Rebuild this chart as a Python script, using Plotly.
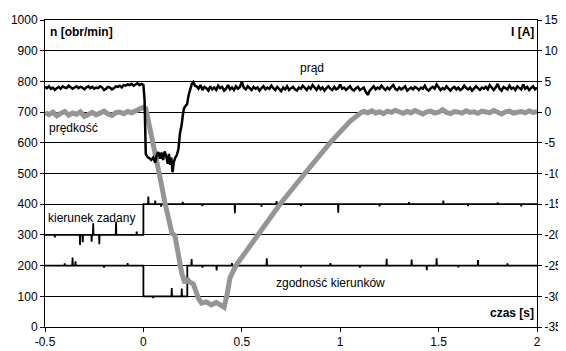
import numpy as np
import plotly.graph_objects as go

# ---------------- data ----------------
# current I [A] (right axis)
cur_pre_t0, cur_pre_dt = -0.5, 0.01
cur_pre = [4.1, 3.9, 4.2, 3.8, 4.0, 3.6, 3.9, 4.1, 3.8, 4.2, 4.0, 3.9, 4.3, 4.1, 3.8, 4.0, 4.2,
           3.9, 4.1, 4.0, 3.7, 4.0, 4.2, 3.9, 4.1, 3.8, 4.0, 3.9, 4.2, 4.0, 3.6, 3.8, 4.1, 4.0,
           3.7, 3.9, 4.2, 4.1, 4.3, 4.0, 4.4, 4.3, 4.5, 4.4, 4.6, 4.3, 4.5, 4.7, 4.4, 4.6, 4.4]
cur_dip_t = [0.006, 0.012, 0.02, 0.03, 0.04, 0.05, 0.06, 0.068, 0.076, 0.084, 0.092, 0.1, 0.108,
             0.116, 0.124, 0.13, 0.136, 0.142, 0.148, 0.154, 0.162, 0.17, 0.178, 0.186, 0.194,
             0.2, 0.206, 0.214, 0.222, 0.23, 0.238, 0.246, 0.254, 0.262]
cur_dip = [2.0, -6.8, -7.3, -7.5, -7.8, -7.4, -8.2, -7.0, -6.5, -7.6, -6.6, -7.8, -6.4,
           -7.2, -8.4, -6.8, -8.6, -7.4, -9.8, -8.2, -7.4, -7.0, -6.0, -3.4, -2.2,
           -0.6, 0.6, 1.0, 1.3, 2.8, 3.9, 4.6, 4.9, 4.3]
cur_post_t0, cur_post_dt = 0.27, 0.01
cur_post = [4.2, 3.8, 4.4, 3.6, 4.1, 3.9, 3.5, 4.2, 3.7, 4.0,
            3.6, 4.3, 3.9, 4.1, 3.5, 3.8, 4.4, 3.7, 4.0, 3.6,
            4.2, 3.8, 4.1, 4.9, 4.0, 3.7, 4.2, 3.9, 3.6, 4.1,
            3.8, 4.0, 3.5, 3.9, 4.2, 3.7, 4.0, 3.8, 4.3, 3.9,
            3.6, 4.1, 3.8, 3.4, 4.0, 3.7, 4.2, 3.6, 3.9, 4.1,
            3.7, 3.5, 4.0, 3.8, 4.3, 3.9, 3.6, 4.1, 3.8, 4.4,
            3.9, 3.6, 4.2, 3.7, 4.0, 3.5, 3.9, 4.2, 3.8, 3.6,
            4.1, 3.7, 3.9, 4.5, 3.8, 4.0, 3.6, 3.9, 4.2, 3.7,
            3.5, 3.9, 4.1, 3.6, 3.8, 4.0, 3.3, 2.8, 3.5, 3.9,
            4.2, 3.7, 4.0, 3.8, 4.3, 3.9, 3.6, 4.0, 3.7, 4.1,
            4.4, 3.8, 3.6, 4.0, 3.7, 3.9, 4.2, 3.5, 3.8, 4.0,
            3.7, 4.1, 3.9, 3.6, 4.0, 3.8, 4.3, 3.7, 3.5, 3.9,
            4.1, 3.8, 4.5, 4.0, 3.6, 3.9, 3.7, 4.2, 3.8, 3.5,
            3.9, 4.1, 3.7, 4.0, 3.6, 3.8, 4.3, 3.9, 3.7, 4.0,
            3.5, 3.8, 4.2, 3.9, 3.6, 4.0, 3.8, 4.1, 3.7, 4.4,
            3.9, 3.6, 4.0, 4.6, 3.8, 3.5, 4.1, 3.9, 3.7, 4.3,
            3.8, 4.0, 3.6, 4.2, 3.9, 3.7, 4.5, 3.8, 4.1, 3.6,
            3.9, 4.2, 3.7, 4.0]

# speed n [obr/min] (left axis)
spd_pre_t0, spd_pre_dt = -0.5, 0.02
spd_pre = [698, 692, 700, 688, 696, 702, 690, 697, 693, 701, 686, 695, 699, 691, 697, 703,
           694, 689, 698, 700, 695, 702, 698, 705, 710]
spd_mid_t = [0.0, 0.012, 0.025, 0.05, 0.076, 0.09, 0.11, 0.13, 0.145, 0.16, 0.177, 0.195,
             0.211, 0.222, 0.232, 0.254, 0.279, 0.295, 0.32, 0.345, 0.37, 0.39, 0.41, 0.425,
             0.44, 0.47, 0.58, 0.694, 0.82, 0.948, 1.05, 1.09, 1.11]
spd_mid = [716, 712, 674, 598, 522, 470, 403, 335, 305, 298, 240, 175,
           143, 158, 148, 140, 94, 78, 82, 72, 80, 70, 64, 105,
           160, 200, 300, 400, 500, 600, 670, 692, 700]
spd_post_t0, spd_post_dt = 1.12, 0.02
spd_post = [702, 698, 704, 697, 701, 695, 703, 699, 706, 700,
            696, 702, 698, 705, 700, 694, 701, 703, 697, 700,
            708, 699, 695, 702, 700, 697, 704, 699, 701, 696,
            703, 700, 698, 705, 699, 694, 701, 703, 697, 700,
            702, 698, 704, 699, 701]

# requested direction (kierunek zadany): level before / after step at t=0
kier_levels = [300, 400]
kier_spike_t = [-0.45, -0.322, -0.308, -0.263, -0.255, -0.224, -0.139, -0.034, 0.025, 0.06,
                0.09, 0.2, 0.3, 0.465, 0.6, 0.677, 0.8, 0.99, 1.2, 1.35, 1.524, 1.65, 1.8, 1.92]
kier_spike_v = [292, 267, 276, 278, 338, 270, 343, 311, 425, 412,
                392, 408, 394, 371, 392, 410, 394, 372, 393, 407, 412, 394, 406, 393]

# direction agreement (zgodność kierunków): 200 -> 100 (0..0.223) -> 200
zg_edges = [-0.5, 0.0, 0.223, 2.0]
zg_levels = [200, 100, 200]
zg_spike_t = [-0.4, -0.36, -0.345, -0.2, -0.08, 0.05, 0.144, 0.195, 0.245, 0.3, 0.372, 0.45,
              0.627, 0.8, 0.95, 1.1, 1.236, 1.363, 1.44, 1.49, 1.6, 1.7, 1.85]
zg_spike_v = [207, 226, 214, 193, 208, 94, 127, 125, 221, 193, 184, 208,
              224, 194, 208, 193, 222, 220, 185, 224, 194, 218, 207]

x_tickvals = [-0.5, 0, 0.5, 1, 1.5, 2]
x_ticktext = ["-0.5", "0", "0.5", "1", "1.5", "2"]
y_tickvals = [0, 100, 200, 300, 400, 500, 600, 700, 800, 900, 1000]
y2_tickvals = [-35, -30, -25, -20, -15, -10, -5, 0, 5, 10, 15]
y2_ticktext = ["-35", "-30", "-25", "-20", "-15", "-10", "-5", "0", "5", "10", "15"]


# ---------------- helpers ----------------
def grid(t0, dt, n):
    return list(np.round(t0 + dt * np.arange(n), 4))


def step_with_spikes(edges, levels, sp_t, sp_v, w=0.0015):
    pts = []
    for i, lv in enumerate(levels):
        a, b = edges[i], edges[i + 1]
        inner = [(t, v) for t, v in zip(sp_t, sp_v) if a <= t < b]
        pts.append((a, lv))
        for t, v in inner:
            pts += [(t - w, lv), (t, v), (t + w, lv)]
        pts.append((b, lv))
    return [p[0] for p in pts], [p[1] for p in pts]


cur_t = grid(cur_pre_t0, cur_pre_dt, len(cur_pre)) + cur_dip_t + grid(cur_post_t0, cur_post_dt, len(cur_post))
cur_v = cur_pre + cur_dip + cur_post
spd_t = grid(spd_pre_t0, spd_pre_dt, len(spd_pre)) + spd_mid_t + grid(spd_post_t0, spd_post_dt, len(spd_post))
spd_v = spd_pre + spd_mid + spd_post

kx, ky = step_with_spikes([-0.5, 0.0, 2.0], kier_levels, kier_spike_t, kier_spike_v)
zx, zy = step_with_spikes(zg_edges, zg_levels, zg_spike_t, zg_spike_v)

FONT = "Liberation Sans, Arial, sans-serif"

fig = go.Figure()
fig.add_trace(go.Scatter(x=kx, y=ky, mode="lines", line=dict(color="black", width=1.8),
                         name="kierunek zadany"))
fig.add_trace(go.Scatter(x=zx, y=zy, mode="lines", line=dict(color="black", width=1.8),
                         name="zgodność kierunków"))
fig.add_trace(go.Scatter(x=spd_t, y=spd_v, mode="lines", line=dict(color="#959595", width=5),
                         name="prędkość"))
fig.add_trace(go.Scatter(x=cur_t, y=cur_v, mode="lines", line=dict(color="black", width=2.5),
                         name="prąd", yaxis="y2"))

ann = [
    dict(text="<b>n [obr/min]</b>", x=0.006, y=0.961, xanchor="left"),
    dict(text="<b>I [A]</b>", x=0.998, y=0.961, xanchor="right"),
    dict(text="prąd", x=0.543, y=0.844, xanchor="center"),
    dict(text="prędkość", x=0.004, y=0.648, xanchor="left"),
    dict(text="kierunek zadany", x=0.002, y=0.355, xanchor="left"),
    dict(text="zgodność kierunków", x=0.4655, y=0.143, xanchor="left"),
    dict(text="<b>czas [s]</b>", x=0.998, y=0.0456, xanchor="right"),
]
for a in ann:
    fig.add_annotation(xref="paper", yref="paper", yanchor="middle", showarrow=False,
                       font=dict(family=FONT, size=12, color="black"), **a)

axis_common = dict(showline=True, linecolor="black", linewidth=1, ticks="outside",
                   ticklen=4, tickcolor="black", zeroline=False, automargin=False,
                   tickfont=dict(family=FONT, size=12, color="black"))

# page body has an 8px default margin, so the figure is sized to fit the window
fig.update_layout(
    width=558, height=343,
    margin=dict(l=37, r=29, t=12, b=24, autoexpand=False),
    paper_bgcolor="white", plot_bgcolor="white",
    showlegend=False,
    font=dict(family=FONT, size=12, color="black"),
    xaxis=dict(range=[-0.5, 2], tickvals=x_tickvals, ticktext=x_ticktext,
               showgrid=False, mirror=True, **axis_common),
    yaxis=dict(range=[0, 1000], tickvals=y_tickvals, showgrid=True, gridcolor="black",
               gridwidth=1, **axis_common),
    yaxis2=dict(range=[-35, 15], tickvals=y2_tickvals, ticktext=y2_ticktext,
                overlaying="y", side="right", showgrid=False, **axis_common),
)

fig.write_html("out.html")
